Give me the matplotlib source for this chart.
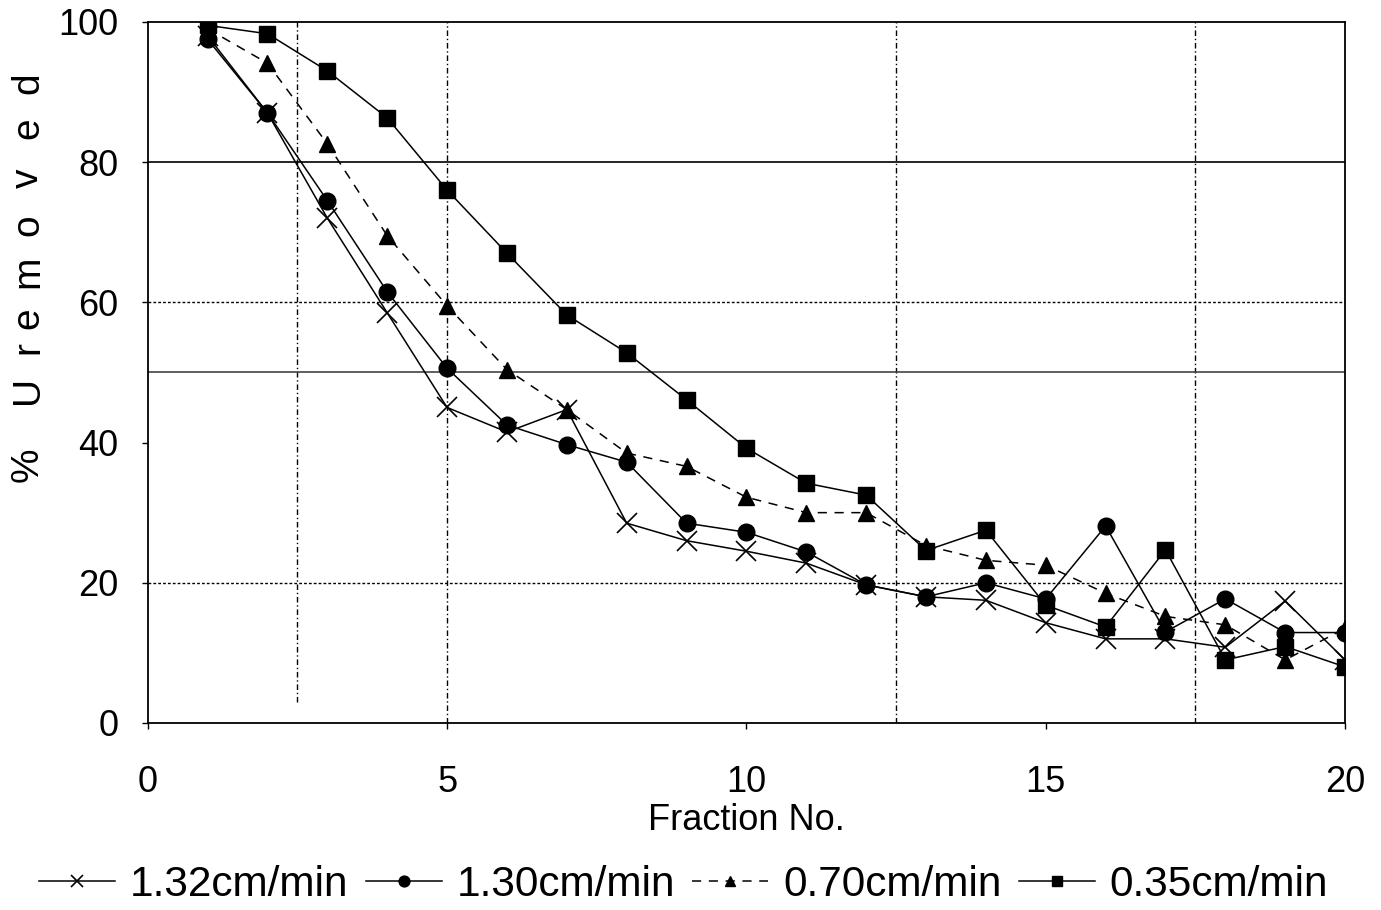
import numpy as np
import matplotlib
matplotlib.use("Agg")
import matplotlib.pyplot as plt

# Datos
fraccion = list(range(1, 21))
u_132 = [98, 87, 72, 58.5, 45, 41.5, 44.7, 28.5, 26, 24.5,
         22.8, 19.7, 18, 17.5, 14.3, 12, 12, 10.8, 17.4, 9]
u_130 = [97.5, 87, 74.5, 61.5, 50.6, 42.5, 39.7, 37.2, 28.5, 27.2,
         24.4, 19.7, 18, 20, 17.7, 28.1, 13, 17.7, 12.9, 12.9]
u_070 = [99, 94.1, 82.6, 69.5, 59.5, 50.4, 44.7, 38.5, 36.6, 32.2,
         30, 30, 25.3, 23.2, 22.5, 18.5, 15.2, 14, 9, 13.5]
u_035 = [99.5, 98.3, 93, 86.3, 76, 67, 58.2, 52.8, 46.1, 39.2,
         34.2, 32.5, 24.6, 27.5, 16.8, 13.7, 24.7, 9, 10.9, 8]
etiquetas = ["1.32cm/min", "1.30cm/min", "0.70cm/min", "0.35cm/min"]
titulo_y = "%Uremoved"

plt.rcParams['font.family'] = ['Liberation Sans', 'DejaVu Sans']

fig = plt.figure(figsize=(13.81, 9.10), dpi=100)
ax = fig.add_axes([0.107, 0.2055, 0.867, 0.7705])

# Rejilla irregular como en el original escaneado
for xv in [2.5, 5, 12.5, 17.5]:
    ymin = 0.03 if xv == 2.5 else 0
    ax.axvline(xv, ymin=ymin, ymax=1, color='black', lw=1.0, ls=(0, (4, 2, 1, 2)), zorder=1)
ax.axhline(80, color='black', lw=1.2, zorder=1)
ax.axhline(50, color='#444444', lw=1.2, zorder=1)
ax.axhline(60, color='black', lw=1.0, ls=(0, (2, 1.5)), zorder=1)
ax.axhline(20, color='black', lw=1.0, ls=(0, (2, 1.5)), zorder=1)

ax.plot(fraccion, u_132, color='black', lw=1.1, marker='x', ms=14, mew=1.2, label=etiquetas[0], zorder=3)
ax.plot(fraccion, u_130, color='black', lw=1.1, marker='o', ms=12, label=etiquetas[1], zorder=3)
ax.plot(fraccion, u_070, color='black', lw=1.1, ls=(0, (6, 5)), marker='^', ms=12, label=etiquetas[2], zorder=3)
ax.plot(fraccion, u_035, color='black', lw=1.1, marker='s', ms=12, label=etiquetas[3], zorder=3)

ax.set_xlim(0, 20)
ax.set_ylim(0, 100)
ax.set_xticks([0, 5, 10, 15, 20])
ax.set_yticks([0, 20, 40, 60, 80, 100])
ax.tick_params(labelsize=26, length=4, width=1, direction='out')
ax.tick_params(axis='x', pad=26)
ax.tick_params(axis='y', pad=17)
for s in ax.spines.values():
    s.set_linewidth(1.3)

fig.text(0.107 + 0.867 / 2, 1 - 820 / 910, "Fraction No.", fontsize=26, ha='center', va='center')

# Titulo del eje Y con letras espaciadas
pos_y = [465, 390, 347, 318, 272, 225, 178, 128, 83]
for letra, py in zip(titulo_y, pos_y):
    fig.text(28 / 1381, 1 - py / 910, letra, fontsize=28, rotation=90,
             ha='center', va='center')

fig.legend(loc='center', bbox_to_anchor=(0.495, 1 - 885 / 910), ncol=4, frameon=False,
           fontsize=30.5, handlelength=1.8, handletextpad=0.35, columnspacing=0.4,
           markerscale=0.65)

fig.savefig("out.png", dpi=100)
